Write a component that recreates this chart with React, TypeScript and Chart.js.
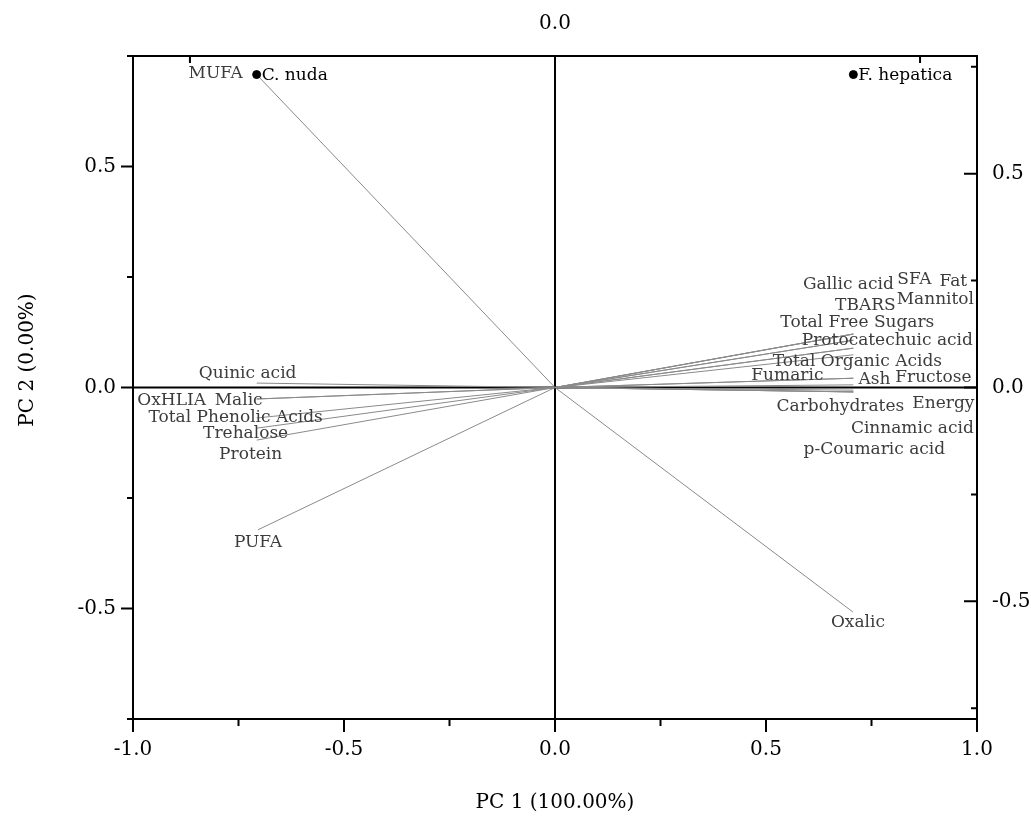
import React, { useEffect, useRef } from 'react';
import { Chart, registerables } from 'chart.js';

Chart.register(...registerables);

// ---- data ----
const sampleNames = ['C. nuda', 'F. hepatica'];
const sampleX = [-0.707, 0.707];
const sampleY = [0.708, 0.708];

const loadingNames = [
  'Gallic acid', 'SFA', 'Fat', 'Mannitol', 'TBARS', 'Total Free Sugars',
  'Protocatechuic acid', 'Total Organic Acids', 'Fumaric', 'Ash', 'Fructose',
  'Carbohydrates', 'Energy', 'Cinnamic acid', 'p-Coumaric acid', 'Oxalic',
  'MUFA', 'Quinic acid', 'OxHLIA', 'Malic', 'Total Phenolic Acids', 'Trehalose',
  'Protein', 'PUFA',
];
const loadingX = [
  0.707, 0.707, 0.707, 0.707, 0.707, 0.707,
  0.707, 0.707, 0.707, 0.707, 0.707,
  0.707, 0.707, 0.707, 0.707, 0.706,
  -0.707, -0.707, -0.707, -0.707, -0.707, -0.707,
  -0.707, -0.704,
];
const loadingY = [
  0.121, 0.121, 0.121, 0.107, 0.107, 0.089,
  0.089, 0.074, 0.021, 0.021, 0.006,
  -0.006, -0.01, -0.01, -0.01, -0.508,
  0.708, 0.01, -0.026, -0.026, -0.069, -0.092,
  -0.119, -0.322,
];

const xTicks = [-1, -0.5, 0, 0.5, 1];
const xMinorTicks = [-0.75, -0.25, 0.25, 0.75];
const yTicks = [-0.5, 0, 0.5];
const yMinorTicks = [-0.75, -0.25, 0.25, 0.75];
const topTicks = [0];
const topMinorTicks = [-1, 1];
const xTitle = 'PC 1 (100.00%)';
const yTitle = 'PC 2 (0.00%)';

// ---- layout (label offsets in px from vector tips) ----
const labelOffsets: Record<string, [number, number]> = {
  'Gallic acid': [-5, -49],
  'SFA': [61, -54],
  'Fat': [100, -52],
  'Mannitol': [82, -41],
  'TBARS': [12, -35],
  'Total Free Sugars': [4, -26],
  'Protocatechuic acid': [34, -8],
  'Total Organic Acids': [4, 7],
  'Fumaric': [-66, -3],
  'Ash': [21, 1],
  'Fructose': [80, -7],
  'Carbohydrates': [-13, 16],
  'Energy': [90, 12],
  'Cinnamic acid': [59, 37],
  'p-Coumaric acid': [21, 58],
  'Oxalic': [5, 11],
  'MUFA': [-41, -1],
  'Quinic acid': [-9, -10],
  'OxHLIA': [-85, 2],
  'Malic': [-18, 2],
  'Total Phenolic Acids': [-21, 0],
  'Trehalose': [-11, 5],
  'Protein': [-6, 14],
  'PUFA': [0, 13],
};

const FONT = "'DejaVu Serif', serif";
const W = 1031;
const H = 818;

const fixTicks = (vals: number[]) => (s: any) => {
  s.ticks = vals.map((v) => ({ value: v }));
};

const overlay = {
  id: 'overlay',
  beforeDatasetsDraw(chart: any) {
    const { ctx, chartArea: a, scales } = chart;
    const x0 = scales.x.getPixelForValue(0);
    const y0 = scales.y.getPixelForValue(0);
    ctx.save();
    ctx.strokeStyle = '#000';
    ctx.lineWidth = 2;
    ctx.beginPath();
    ctx.moveTo(x0, a.top);
    ctx.lineTo(x0, a.bottom);
    ctx.moveTo(a.left, y0);
    ctx.lineTo(a.right, y0);
    ctx.stroke();
    ctx.restore();
  },
  afterDraw(chart: any) {
    const { ctx, chartArea: a, scales } = chart;
    ctx.save();
    // frame
    ctx.strokeStyle = '#000';
    ctx.lineWidth = 2;
    ctx.strokeRect(a.left, a.top, a.right - a.left, a.bottom - a.top);
    // ticks
    ctx.beginPath();
    const hTick = (sc: any, vals: number[], y: number, len: number) => {
      vals.forEach((v) => {
        const px = sc.getPixelForValue(v);
        ctx.moveTo(px, y);
        ctx.lineTo(px, y + len);
      });
    };
    const vTick = (sc: any, vals: number[], x: number, len: number) => {
      vals.forEach((v) => {
        const py = sc.getPixelForValue(v);
        ctx.moveTo(x, py);
        ctx.lineTo(x + len, py);
      });
    };
    hTick(scales.x, xTicks, a.bottom, 13);
    hTick(scales.x, xMinorTicks, a.bottom, 7);
    vTick(scales.y, yTicks, a.left, -12);
    vTick(scales.y, yMinorTicks, a.left, -6);
    vTick(scales.y2, yTicks, a.right, -13);
    vTick(scales.y2, yMinorTicks, a.right, -6);
    hTick(scales.x2, topTicks, a.top, 12);
    hTick(scales.x2, topMinorTicks, a.top, 7);
    ctx.stroke();

    // loading labels
    ctx.font = `17px ${FONT}`;
    ctx.fillStyle = '#3c3c3c';
    ctx.textAlign = 'center';
    ctx.textBaseline = 'middle';
    loadingNames.forEach((n, i) => {
      const px = scales.x.getPixelForValue(loadingX[i]);
      const py = scales.y.getPixelForValue(loadingY[i]);
      const off = labelOffsets[n] || [0, 0];
      ctx.fillText(n, px + off[0], py + off[1]);
    });
    // sample labels
    ctx.fillStyle = '#000';
    ctx.textAlign = 'left';
    sampleNames.forEach((n, i) => {
      const px = scales.x.getPixelForValue(sampleX[i]);
      const py = scales.y.getPixelForValue(sampleY[i]);
      ctx.fillText(n, px + 5, py + 1);
    });
    // axis titles
    ctx.font = `20px ${FONT}`;
    ctx.fillStyle = '#000';
    ctx.textAlign = 'center';
    ctx.fillText(xTitle, (a.left + a.right) / 2, 803);
    ctx.save();
    ctx.translate(28, 360);
    ctx.rotate(-Math.PI / 2);
    ctx.fillText(yTitle, 0, 0);
    ctx.restore();
    ctx.restore();
  },
};

export default function App() {
  const ref = useRef<HTMLCanvasElement | null>(null);
  useEffect(() => {
    if (!ref.current) return;
    const datasets: any[] = [
      {
        label: 'Samples',
        data: sampleX.map((x, i) => ({ x, y: sampleY[i] })),
        pointRadius: 4,
        pointBackgroundColor: '#000',
        pointBorderColor: '#000',
        showLine: false,
      },
      ...loadingNames.map((n, i) => ({
        label: n,
        data: [
          { x: 0, y: 0 },
          { x: loadingX[i], y: loadingY[i] },
        ],
        showLine: true,
        borderColor: '#8a8a8a',
        borderWidth: 1,
        pointRadius: 0,
      })),
    ];
    const tickFont = { family: FONT, size: 20 };
    const chart = new Chart(ref.current, {
      type: 'scatter',
      data: { datasets },
      options: {
        animation: false,
        responsive: false,
        layout: { padding: 0 },
        plugins: { legend: { display: false }, tooltip: { enabled: false } },
        scales: {
          x: {
            type: 'linear',
            position: 'bottom',
            min: -1,
            max: 1,
            afterBuildTicks: fixTicks(xTicks),
            ticks: {
              font: tickFont,
              color: '#000',
              padding: 19,
              maxRotation: 0,
              autoSkip: false,
              callback: (v: any) => Number(v).toFixed(1),
            },
            grid: { display: false, drawTicks: false },
            border: { display: false },
            afterFit: (s: any) => {
              s.height = 99;
            },
          },
          x2: {
            type: 'linear',
            position: 'top',
            min: -1.156,
            max: 1.156,
            afterBuildTicks: fixTicks(topTicks),
            ticks: {
              font: tickFont,
              color: '#000',
              padding: 20,
              maxRotation: 0,
              autoSkip: false,
              callback: (v: any) => Number(v).toFixed(1),
            },
            grid: { display: false, drawTicks: false },
            border: { display: false },
            afterFit: (s: any) => {
              s.height = 56;
            },
          },
          y: {
            type: 'linear',
            position: 'left',
            min: -0.75,
            max: 0.75,
            afterBuildTicks: fixTicks(yTicks),
            ticks: {
              font: tickFont,
              color: '#000',
              padding: 17,
              autoSkip: false,
              callback: (v: any) => Number(v).toFixed(1),
            },
            grid: { display: false, drawTicks: false },
            border: { display: false },
            afterFit: (s: any) => {
              s.width = 133;
            },
          },
          y2: {
            type: 'linear',
            position: 'right',
            min: -0.775,
            max: 0.775,
            afterBuildTicks: fixTicks(yTicks),
            ticks: {
              font: tickFont,
              color: '#000',
              padding: 15,
              autoSkip: false,
              callback: (v: any) => Number(v).toFixed(1),
            },
            grid: { display: false, drawTicks: false },
            border: { display: false },
            afterFit: (s: any) => {
              s.width = 54;
            },
          },
        },
      } as any,
      plugins: [overlay],
    });
    return () => chart.destroy();
  }, []);
  return (
    <div style={{ position: 'absolute', left: 0, top: 0, width: W, height: H }}>
      <canvas ref={ref} width={W} height={H} style={{ display: 'block', width: W, height: H }} />
    </div>
  );
}
